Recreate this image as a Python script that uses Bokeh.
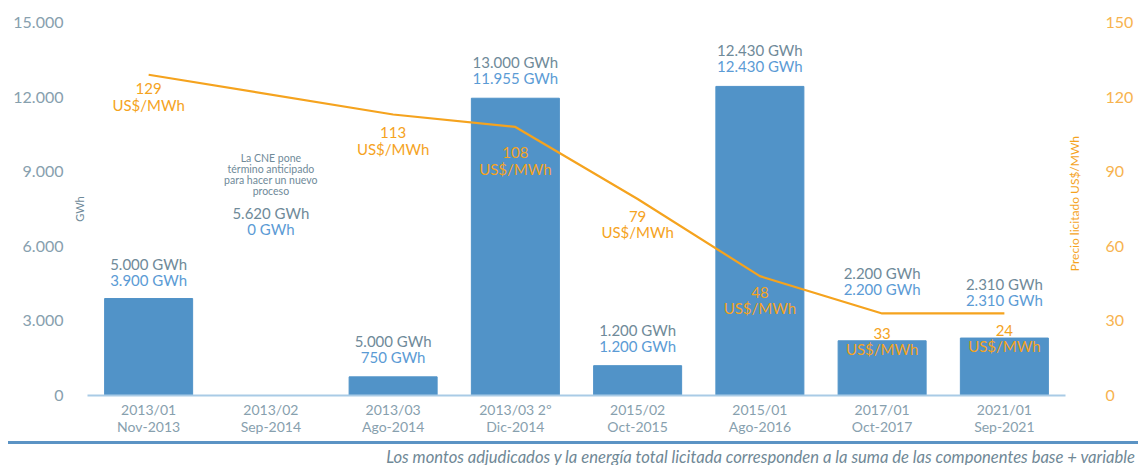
from bokeh.plotting import figure
from bokeh.models import (FactorRange, Range1d, LinearAxis, CategoricalAxis, FixedTicker, ColumnDataSource, Div)
from bokeh.layouts import column
from bokeh.core.properties import value
from bokeh.embed import file_html
from bokeh.resources import INLINE
import math

# ---------------- data ----------------
processes = ["2013/01", "2013/02", "2013/03", "2013/03 2º", "2015/02", "2015/01", "2017/01", "2021/01"]
dates = ["Nov-2013", "Sep-2014", "Ago-2014", "Dic-2014", "Oct-2015", "Ago-2016", "Oct-2017", "Sep-2021"]
offered_gwh = [5000, 5620, 5000, 13000, 1200, 12430, 2200, 2310]
awarded_gwh = [3900, 0, 750, 11955, 1200, 12430, 2200, 2310]
price_processes = ["2013/01", "2013/03", "2013/03 2º", "2015/02", "2015/01", "2017/01", "2021/01"]
price_line = [129, 113, 108, 79, 48, 33, 33]
price_labels = [129, 113, 108, 79, 48, 33, 24]
left_ticks = [0, 3000, 6000, 9000, 12000, 15000]
right_ticks = [0, 30, 60, 90, 120, 150]
right_title = "Precio licitado US$/MWh"
footnote = "Los montos adjudicados y la energía total licitada corresponden a la suma de las componentes base + variable"

FONT = "Lato"
GRAY = "#6f8a99"
TICKGRAY = "#87a0ae"
BLUE = "#5b9bd5"
BAR = "#5193c8"
ORANGE = "#f5a31e"
ORANGE_T = "#f7b34f"

def fmt(v):
    return f"{v:,}".replace(",", ".")

def bare(ax):
    ax.axis_line_color = None
    ax.major_tick_line_color = None
    ax.minor_tick_line_color = None
    ax.major_tick_out = 0
    ax.major_tick_in = 0
    ax.minor_tick_out = 0
    ax.minor_tick_in = 0

p = figure(width=1138, height=437, x_range=FactorRange(*processes, range_padding=0),
           y_range=Range1d(0, 15000), output_backend="svg", toolbar_location=None,
           min_border_left=87, min_border_right=73, min_border_top=22, min_border_bottom=41)
p.extra_y_ranges = {"price": Range1d(0, 150)}
p.extra_x_ranges = {"dates": FactorRange(*dates, range_padding=0)}
p.outline_line_color = None
p.xgrid.grid_line_color = None
p.ygrid.grid_line_color = None

# bars
src = ColumnDataSource(dict(x=processes, top=awarded_gwh))
p.vbar(x="x", top="top", width=0.72, color=BAR, source=src)

# price line
p.line(price_processes, price_line, y_range_name="price", line_color=ORANGE, line_width=2.2)

# GWh labels
aw_off = [-19, -167, -20, -20, -20, -20, -52, -38]
for i in range(len(processes)):
    p.text([processes[i]], [awarded_gwh[i]], text=[f"{fmt(awarded_gwh[i])} GWh"], y_offset=aw_off[i],
           text_align="center", text_baseline="middle", text_color=BLUE,
           text_font=value(FONT), text_font_size="15px")
    p.text([processes[i]], [awarded_gwh[i]], text=[f"{fmt(offered_gwh[i])} GWh"], y_offset=aw_off[i] - 16,
           text_align="center", text_baseline="middle", text_color=GRAY,
           text_font=value(FONT), text_font_size="15px")

# price labels
pr_off = [14, 18, 26, 17, 16, 20, 17]
for i in range(len(price_processes)):
    p.text([price_processes[i]], [price_line[i]], text=[str(price_labels[i])], y_offset=pr_off[i],
           y_range_name="price", text_align="center", text_baseline="middle",
           text_color=ORANGE, text_font=value(FONT), text_font_size="15px")
    p.text([price_processes[i]], [price_line[i]], text=["US$/MWh"], y_offset=pr_off[i] + 16,
           y_range_name="price", text_align="center", text_baseline="middle",
           text_color=ORANGE, text_font=value(FONT), text_font_size="15px")

# note for 2013/02
note = ["La CNE pone", "término anticipado", "para hacer un nuevo", "proceso"]
for j, line in enumerate(note):
    p.text(["2013/02"], [awarded_gwh[1]], text=[line], y_offset=-238 + j * 11,
           text_align="center", text_baseline="middle", text_color=GRAY,
           text_font=value(FONT), text_font_size="10.5px")

# ---------- x axes (process / date) ----------
xa = p.xaxis[0]
bare(xa)
xa.axis_line_color = "#a9cbe6"
xa.axis_line_width = 2
xa.major_label_standoff = 5
xa.major_label_text_color = TICKGRAY
xa.major_label_text_font = FONT
xa.major_label_text_font_size = "14px"

xb = CategoricalAxis(x_range_name="dates")
bare(xb)
xb.major_label_standoff = -3
xb.major_label_text_color = TICKGRAY
xb.major_label_text_font = FONT
xb.major_label_text_font_size = "14px"
p.add_layout(xb, "below")

# ---------- left axes ----------
ya = p.yaxis[0]
bare(ya)
ya.ticker = FixedTicker(ticks=[])
ya.axis_label = "GWh"
ya.axis_label_standoff = 2
ya.axis_label_text_font = FONT
ya.axis_label_text_font_style = "normal"
ya.axis_label_text_font_size = "11px"
ya.axis_label_text_color = GRAY

yb = LinearAxis(ticker=FixedTicker(ticks=left_ticks),
                major_label_overrides={t: fmt(t) for t in left_ticks})
bare(yb)
yb.major_label_standoff = 6
yb.major_label_text_color = TICKGRAY
yb.major_label_text_font = FONT
yb.major_label_text_font_size = "16px"
p.add_layout(yb, "left")

# ---------- right axes ----------
title_anchor = 50  # where the rotated right-hand title starts (price units)
ra = LinearAxis(y_range_name="price", ticker=FixedTicker(ticks=[title_anchor]),
                major_label_overrides={title_anchor: right_title})
bare(ra)
ra.major_label_orientation = math.pi / 2
ra.major_label_standoff = 9
ra.major_label_text_font = FONT
ra.major_label_text_font_size = "12px"
ra.major_label_text_color = ORANGE
p.add_layout(ra, "right")

rb = LinearAxis(y_range_name="price", ticker=FixedTicker(ticks=right_ticks))
bare(rb)
rb.major_label_standoff = 13
rb.major_label_text_color = ORANGE_T
rb.major_label_text_font = FONT
rb.major_label_text_font_size = "16px"
p.add_layout(rb, "right")

# ---------- footer ----------
foot = Div(text=f'<span style="font-family: Lato; font-style: italic; font-size: 16.6px; color: #6f8896; white-space: nowrap;">{footnote}</span>',
           width=1130, height=24, margin=(4, 0, 0, 8),
           styles={"border-top": "3px solid #5b93c4", "text-align": "right",
                   "padding-top": "4px", "padding-right": "3px", "line-height": "18px",
                   "box-sizing": "border-box", "width": "1130px"})

lay = column(p, foot, spacing=0)
open("out.html", "w").write(file_html(lay, INLINE))
